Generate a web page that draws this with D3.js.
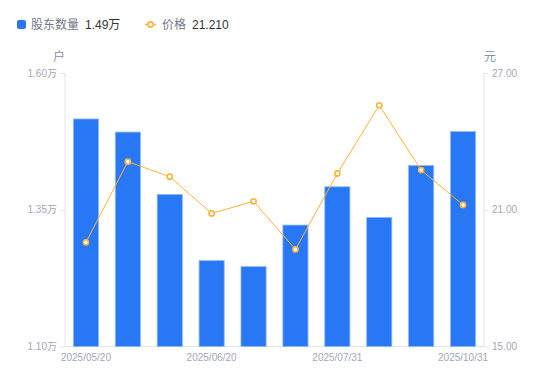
<!DOCTYPE html>
<html>
<head>
<meta charset="utf-8">
<script src="https://cdn.jsdelivr.net/npm/d3@7"></script>
<style>
  body { margin: 0; background: #fff; }
  svg { display: block; font-family: "Liberation Sans", "Noto Sans CJK SC", sans-serif; }
</style>
</head>
<body>
<svg id="chart" width="550" height="381"></svg>
<script>
"use strict";
// data
var dates = ["2025/05/20", "2025/05/31", "2025/06/10", "2025/06/20", "2025/06/30",
             "2025/07/10", "2025/07/31", "2025/08/31", "2025/09/30", "2025/10/31"];
var holders = [1.516, 1.492, 1.378, 1.257, 1.246, 1.322, 1.392, 1.336, 1.431, 1.493]; // 万户
var prices = [19.57, 23.11, 22.45, 20.84, 21.37, 19.26, 22.59, 25.58, 22.74, 21.21];
var holderTicks = [1.10, 1.35, 1.60];
var priceTicks = [15, 21, 27];
var shownDates = ["2025/05/20", "2025/06/20", "2025/07/31", "2025/10/31"];

var svg = d3.select("#chart");
var plotLeft = 65, plotRight = 484, plotTop = 73, plotBottom = 346.5;
var blue = "#2878f5", orange = "#ffb238", axisGrey = "#e3e4e8", labelGrey = "#a3a6b8";

var x = d3.scaleBand().domain(dates).range([plotLeft, plotRight]).paddingInner(0.4).paddingOuter(0.2);
var yL = d3.scaleLinear().domain([1.10, 1.60]).range([plotBottom, plotTop]);
var yR = d3.scaleLinear().domain([15, 27]).range([plotBottom, plotTop]);
function cx(d) { return x(d) + x.bandwidth() / 2; }

// axes
var axLeft = svg.append("g").attr("transform", "translate(" + plotLeft + ",0)")
  .call(d3.axisLeft(yL).tickValues(holderTicks).tickSize(5).tickPadding(3)
    .tickFormat(function (d) { return d.toFixed(2) + "万"; }));
var axRight = svg.append("g").attr("transform", "translate(" + plotRight + ",0)")
  .call(d3.axisRight(yR).tickValues(priceTicks).tickSize(4).tickPadding(4)
    .tickFormat(function (d) { return d.toFixed(2); }));
var axBottom = svg.append("g").attr("transform", "translate(0," + plotBottom + ")")
  .call(d3.axisBottom(x).tickValues(shownDates).tickSize(0).tickPadding(7));

[axLeft, axRight, axBottom].forEach(function (g) {
  g.select(".domain").attr("stroke", axisGrey);
  g.selectAll(".tick line").attr("stroke", axisGrey);
  g.selectAll(".tick text").attr("fill", labelGrey).attr("font-size", 10)
    .attr("font-family", "Liberation Sans, Noto Sans CJK SC, sans-serif");
});
axLeft.select(".domain").attr("d", "M0," + plotTop + "V" + plotBottom);
axRight.select(".domain").attr("d", "M0," + plotTop + "V" + plotBottom);
axBottom.select(".domain").attr("d", "M" + plotLeft + ",0H" + plotRight);

// unit labels
svg.append("text").attr("x", 59).attr("y", 61).attr("text-anchor", "middle")
  .attr("font-size", 12).attr("fill", "#8c8f9f").text("户");
svg.append("text").attr("x", 490).attr("y", 61).attr("text-anchor", "middle")
  .attr("font-size", 12).attr("fill", "#8c8f9f").text("元");

// bars
svg.append("g").selectAll("rect").data(holders).join("rect")
  .attr("x", function (d, i) { return x(dates[i]); })
  .attr("y", function (d) { return yL(d); })
  .attr("width", x.bandwidth())
  .attr("height", function (d) { return plotBottom - yL(d); })
  .attr("fill", blue)
  .attr("stroke", "#8fb9fa").attr("stroke-width", 0.8);

// price line
var line = d3.line().x(function (d, i) { return cx(dates[i]); }).y(function (d) { return yR(d); });
svg.append("path").datum(prices).attr("d", line)
  .attr("fill", "none").attr("stroke", orange).attr("stroke-width", 1);
svg.append("g").selectAll("circle").data(prices).join("circle")
  .attr("cx", function (d, i) { return cx(dates[i]); })
  .attr("cy", function (d) { return yR(d); })
  .attr("r", 2.6).attr("fill", "#fff").attr("stroke", orange).attr("stroke-width", 1.6);

// legend
var lg = svg.append("g");
lg.append("rect").attr("x", 17).attr("y", 20).attr("width", 9).attr("height", 9).attr("rx", 2).attr("fill", blue);
lg.append("text").attr("x", 31).attr("y", 28.5).attr("font-size", 12).attr("fill", "#72768a").text("股东数量");
lg.append("text").attr("x", 85).attr("y", 28.5).attr("font-size", 12).attr("fill", "#333").text(holders[holders.length - 1].toFixed(2) + "万");
lg.append("line").attr("x1", 145).attr("x2", 156).attr("y1", 24.5).attr("y2", 24.5).attr("stroke", orange).attr("stroke-width", 1.5);
lg.append("circle").attr("cx", 150.5).attr("cy", 24.5).attr("r", 2.6).attr("fill", "#fff").attr("stroke", orange).attr("stroke-width", 1.6);
lg.append("text").attr("x", 162).attr("y", 28.5).attr("font-size", 12).attr("fill", "#72768a").text("价格");
lg.append("text").attr("x", 192).attr("y", 28.5).attr("font-size", 12).attr("fill", "#333").text(prices[prices.length - 1].toFixed(3));
</script>
</body>
</html>
